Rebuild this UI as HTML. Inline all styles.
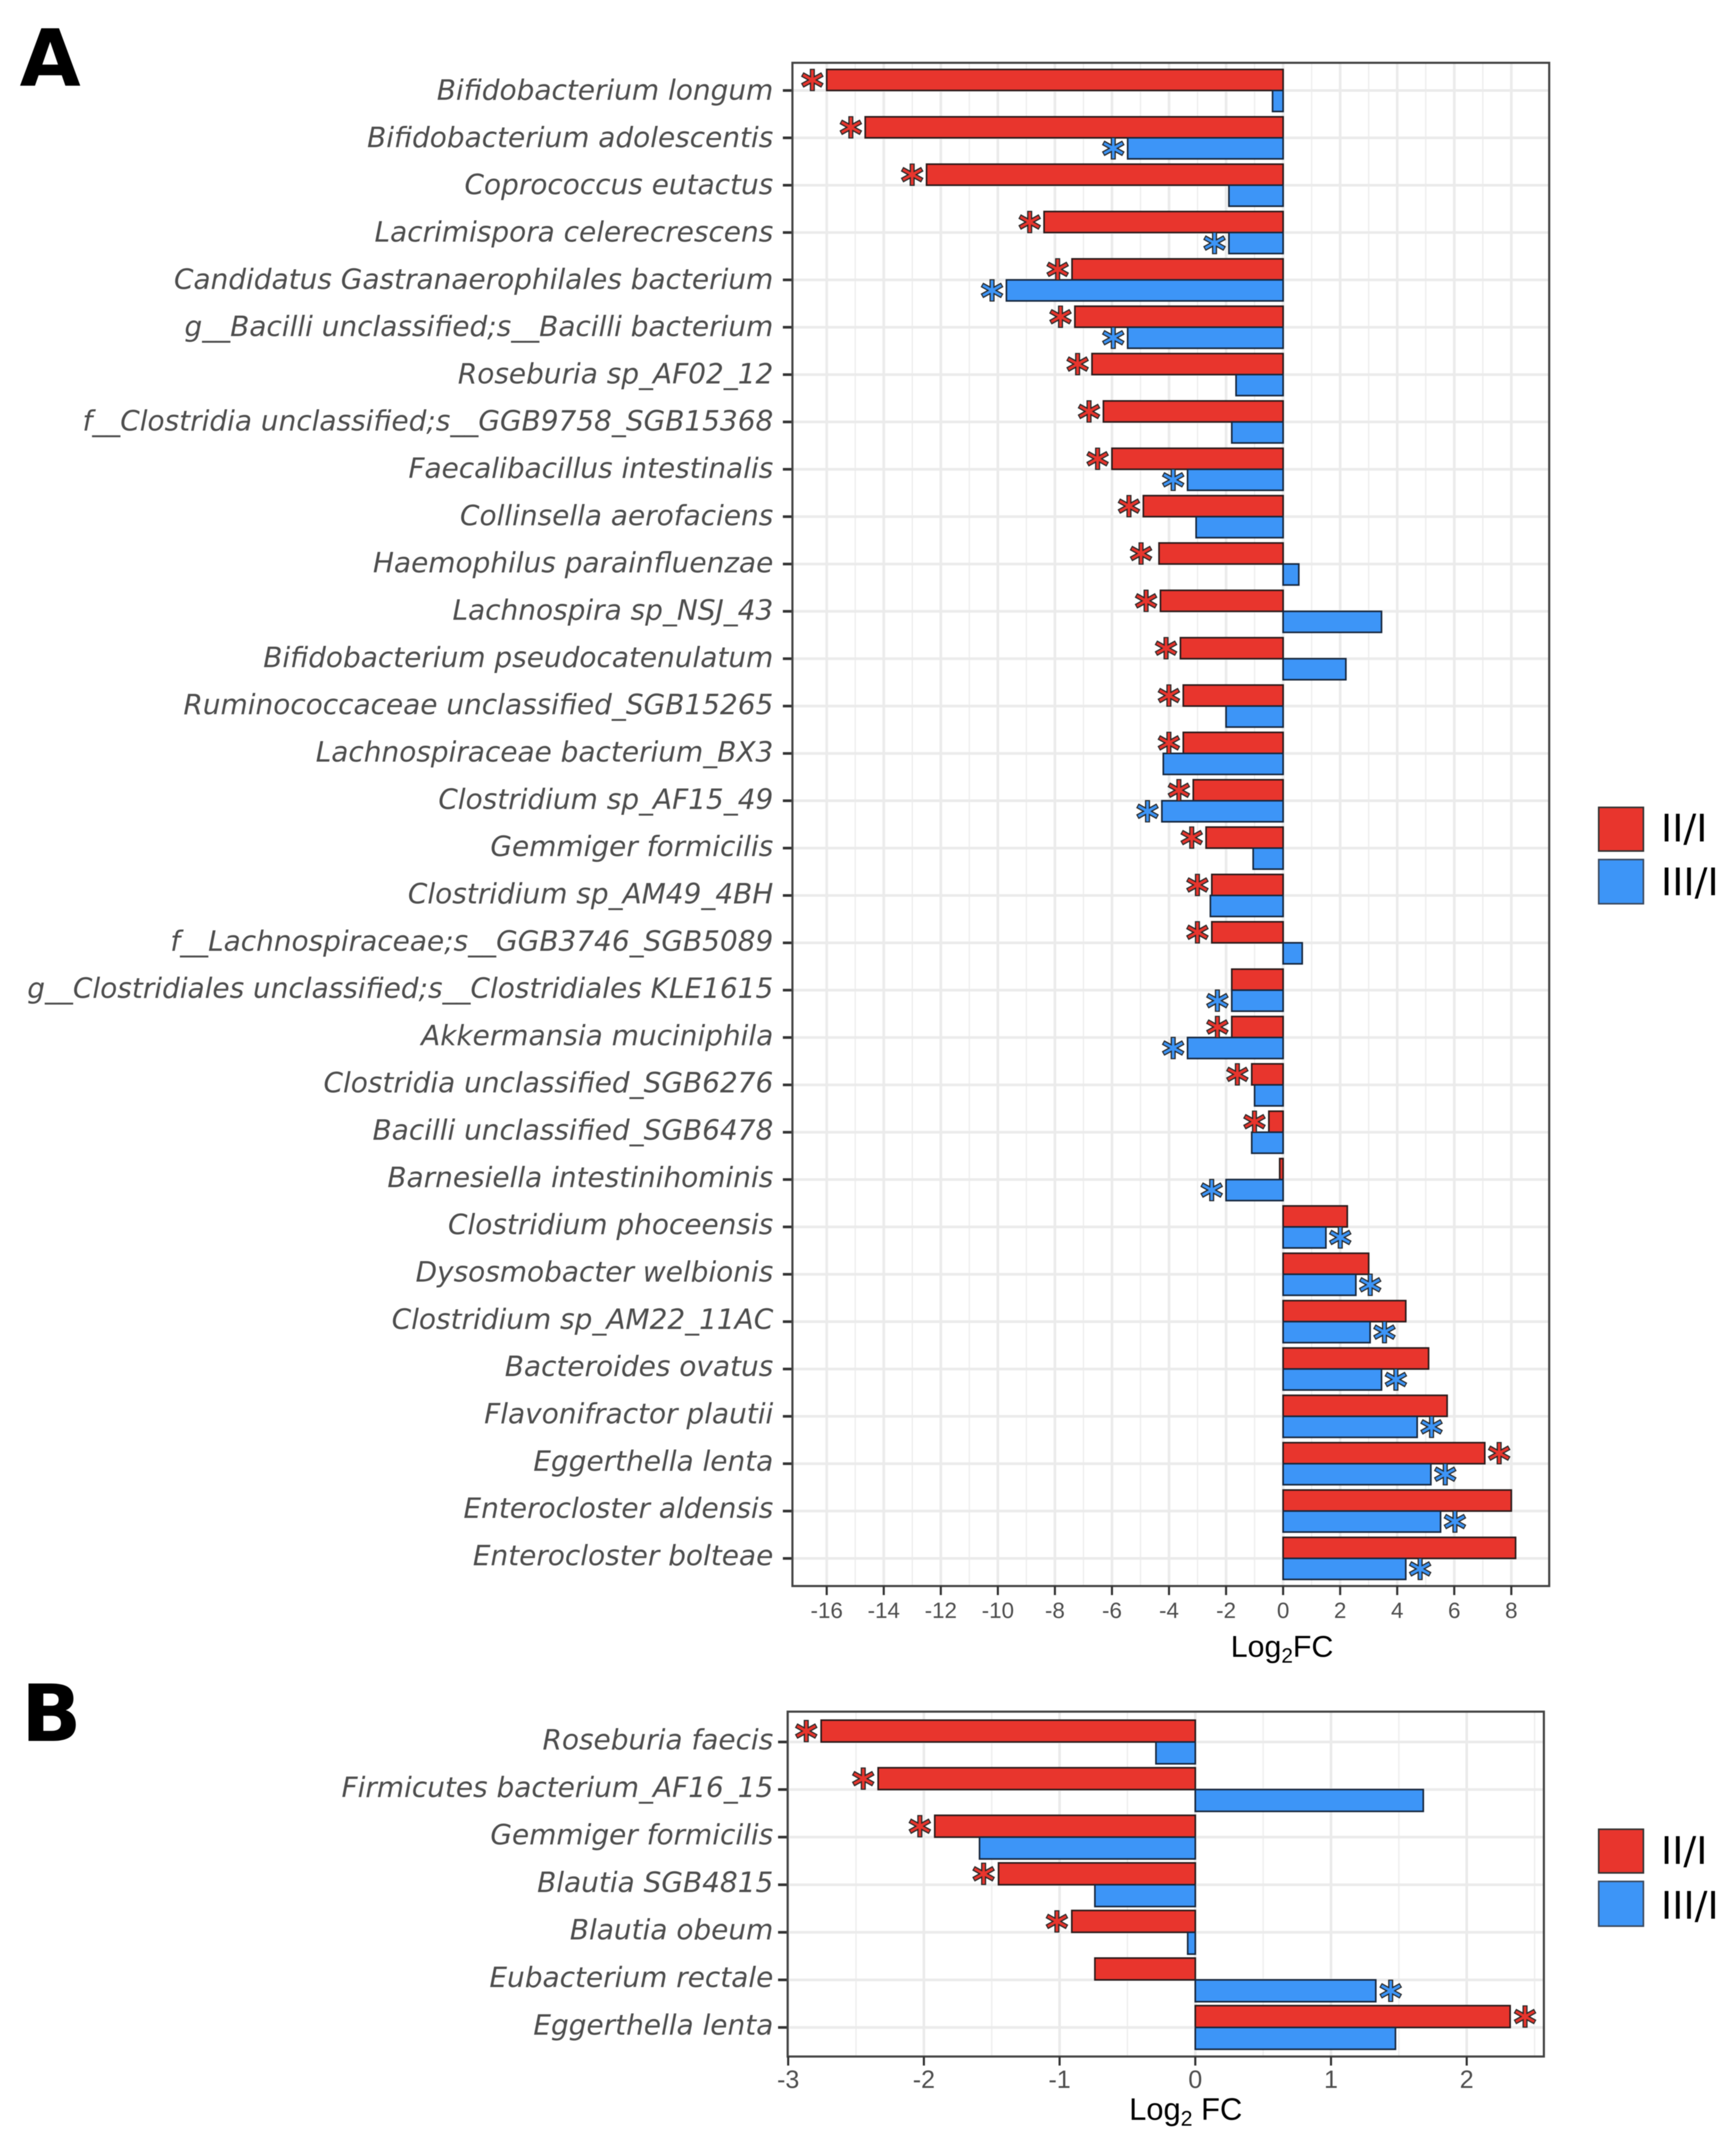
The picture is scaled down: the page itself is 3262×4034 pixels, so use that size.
<!DOCTYPE html>
<html lang="en">
<head>
<meta charset="utf-8">
<title>Log2FC differential abundance bar charts</title>
<style>
html,body{margin:0;padding:0;background:#fff;}
body{width:3262px;height:4034px;overflow:hidden;}
svg{display:block;}
.ylab{font-family:"DejaVu Sans","Liberation Sans",sans-serif;font-style:italic;font-size:52.5px;fill:#4d4d4d;text-anchor:end;}
.tick{font-family:"Liberation Sans",sans-serif;fill:#4d4d4d;text-anchor:middle;}
.axt{font-family:"Liberation Sans",sans-serif;fill:#000;text-anchor:middle;}
.leg{font-family:"DejaVu Sans",sans-serif;font-size:71.5px;fill:#000;}
.pan{font-family:"DejaVu Sans",sans-serif;font-weight:700;font-size:148px;fill:#000;}
</style>
</head>
<body>
<svg id="chart" xmlns="http://www.w3.org/2000/svg" width="3262" height="4034" viewBox="0 0 3262 4034">
  <rect width="3262" height="4034" fill="#fff"/>
  <g id="root" style="filter:blur(0.7px)">
    <text class="pan" x="37" y="161">A</text>
    <text class="pan" x="40" y="3271">B</text>
    <g id="gridlayer"></g>
    <g id="barlayer"></g>
    <g id="starlayer"></g>
    <g id="framelayer"></g>
    <text class="axt" x="2409" y="3113" font-size="57">Log<tspan font-size="39" dy="11">2</tspan><tspan dy="-11">FC</tspan></text>
    <text class="axt" x="2228" y="3983" font-size="58">Log<tspan font-size="40" dy="11">2</tspan><tspan dy="-11"> FC</tspan></text>
    <g>
      <rect x="3004" y="1517" width="84" height="82" fill="#e8352d" stroke="#333" stroke-width="3"/>
      <rect x="3004" y="1615" width="84" height="83" fill="#3d95f7" stroke="#3a4a60" stroke-width="3"/>
      <text class="leg" x="3121" y="1581">II/I</text>
      <text class="leg" x="3121" y="1682">III/I</text>
    </g>
    <g>
      <rect x="3004" y="3437" width="84" height="82" fill="#e8352d" stroke="#333" stroke-width="3"/>
      <rect x="3004" y="3535" width="84" height="84" fill="#3d95f7" stroke="#3a4a60" stroke-width="3"/>
      <text class="leg" x="3121" y="3502">II/I</text>
      <text class="leg" x="3121" y="3605">III/I</text>
    </g>
  </g>
</svg>
<script>
const speciesA = ["Bifidobacterium longum","Bifidobacterium adolescentis","Coprococcus eutactus","Lacrimispora celerecrescens","Candidatus Gastranaerophilales bacterium","g__Bacilli unclassified;s__Bacilli bacterium","Roseburia sp_AF02_12","f__Clostridia unclassified;s__GGB9758_SGB15368","Faecalibacillus intestinalis","Collinsella aerofaciens","Haemophilus parainfluenzae","Lachnospira sp_NSJ_43","Bifidobacterium pseudocatenulatum","Ruminococcaceae unclassified_SGB15265","Lachnospiraceae bacterium_BX3","Clostridium sp_AF15_49","Gemmiger formicilis","Clostridium sp_AM49_4BH","f__Lachnospiraceae;s__GGB3746_SGB5089","g__Clostridiales unclassified;s__Clostridiales KLE1615","Akkermansia muciniphila","Clostridia unclassified_SGB6276","Bacilli unclassified_SGB6478","Barnesiella intestinihominis","Clostridium phoceensis","Dysosmobacter welbionis","Clostridium sp_AM22_11AC","Bacteroides ovatus","Flavonifractor plautii","Eggerthella lenta","Enterocloster aldensis","Enterocloster bolteae"];
const redA = [-16.0,-14.65,-12.5,-8.38,-7.4,-7.3,-6.7,-6.3,-6.0,-4.9,-4.35,-4.3,-3.6,-3.5,-3.5,-3.15,-2.7,-2.5,-2.5,-1.8,-1.8,-1.1,-0.5,-0.12,2.25,3.0,4.3,5.1,5.75,7.07,8.0,8.15];
const blueA = [-0.37,-5.45,-1.9,-1.9,-9.7,-5.45,-1.65,-1.8,-3.35,-3.05,0.55,3.45,2.2,-2.0,-4.2,-4.25,-1.05,-2.55,0.67,-1.8,-3.35,-1.0,-1.1,-2.0,1.5,2.55,3.05,3.45,4.7,5.18,5.52,4.3];
/* significance marks: 0 = none, otherwise the mark's distance from the bar end as a factor */
const redStarA = [1,1,1,1,1,1,1,1,1,1,1.25,1,1,1,1,1,1,1,1,0,1,1,1,0,0,0,0,0,0,1,0,0];
const blueStarA = [0,1,0,1,1,1,0,0,1,0,0,0,0,0,0,1,0,0,0,1,1,0,0,1,1,1,1,1,1,1,1,1];
const ticksA = [-16,-14,-12,-10,-8,-6,-4,-2,0,2,4,6,8];
const minorTicksA = [-15,-13,-11,-9,-7,-5,-3,-1,1,3,5,7];

const speciesB = ["Roseburia faecis","Firmicutes bacterium_AF16_15","Gemmiger formicilis","Blautia SGB4815","Blautia obeum","Eubacterium rectale","Eggerthella lenta"];
const redB = [-2.757,-2.337,-1.92,-1.45,-0.91,-0.74,2.32];
const blueB = [-0.29,1.68,-1.59,-0.74,-0.056,1.33,1.475];
const redStarB = [1,1,1,1,1,0,1];
const blueStarB = [0,0,0,0,0,1,0];
const ticksB = [-3,-2,-1,0,1,2];
const minorTicksB = [-2.5,-1.5,-0.5,0.5,1.5,2.5];

const RED = "#e8352d", BLUE = "#3d95f7";
const NS = "http://www.w3.org/2000/svg";
const gridLayer = document.getElementById("gridlayer");
const barLayer = document.getElementById("barlayer");
const starLayer = document.getElementById("starlayer");
const frameLayer = document.getElementById("framelayer");

function mk(tag, attrs, parent) {
  const el = document.createElementNS(NS, tag);
  for (const k in attrs) el.setAttribute(k, attrs[k]);
  parent.appendChild(el);
  return el;
}

function drawStar(cx, cy, color, parent) {
  const g = mk("g", {}, parent);
  
  
  const angles = [90, 30, -30];
  angles.forEach(function (a) {
    const r = a * Math.PI / 180, c = Math.cos(r), s = Math.sin(r);
    mk("line", {x1: cx - 22 * c, y1: cy - 21 * s, x2: cx + 22 * c, y2: cy + 21 * s, stroke: "#262626", "stroke-width": 9.5}, g);
  });
  angles.forEach(function (a) {
    const r = a * Math.PI / 180, c = Math.cos(r), s = Math.sin(r);
    mk("line", {x1: cx - 20 * c, y1: cy - 19 * s, x2: cx + 20 * c, y2: cy + 19 * s, stroke: color, "stroke-width": 5}, g);
  });
}

function drawPanel(p) {
  const x = function (v) { return p.zero + v * p.unit; };
  const y = function (i) { return p.firstRow + i * p.rowStep; };
  const base = function (i) { return p.firstBase + i * p.baseStep; };
  p.minor.forEach(function (v) {
    const l = mk("line", {x1: x(v), x2: x(v), y1: p.top, y2: p.bottom, stroke: "#eeeeee", "stroke-width": 2.5}, gridLayer);
    
    
  });
  p.ticks.forEach(function (v) {
    const l = mk("line", {x1: x(v), x2: x(v), y1: p.top, y2: p.bottom, stroke: "#ebebeb", "stroke-width": 5}, gridLayer);
    
    
  });
  p.species.forEach(function (name, i) {
    const l = mk("line", {x1: p.left, x2: p.right, y1: y(i), y2: y(i), stroke: "#ebebeb", "stroke-width": 5}, gridLayer);
    
    

    const t = mk("text", {class: "ylab", x: p.labelX, y: base(i)}, frameLayer);
    t.textContent = name;
    
    

    const tk = mk("line", {x1: p.left - 18, x2: p.left, y1: y(i), y2: y(i), stroke: "#333", "stroke-width": 5}, frameLayer);
    
    

    const rv = p.red[i], bv = p.blue[i];
    const rb = mk("rect", {x: Math.min(x(0), x(rv)), y: y(i) - p.barH, width: Math.abs(x(rv) - x(0)), height: p.barH, fill: RED, stroke: "#2a1a1a", "stroke-width": 3}, barLayer);
    
    
    const bb = mk("rect", {x: Math.min(x(0), x(bv)), y: y(i), width: Math.abs(x(bv) - x(0)), height: p.barH, fill: BLUE, stroke: "#16263c", "stroke-width": 3}, barLayer);
    
    

    if (p.redStar[i]) drawStar(x(rv) + (rv < 0 ? -1 : 1) * p.starGap * p.redStar[i], y(i) - p.barH / 2, RED, starLayer);
    if (p.blueStar[i]) drawStar(x(bv) + (bv < 0 ? -1 : 1) * p.starGap * p.blueStar[i], y(i) + p.barH / 2, BLUE, starLayer);
  });
  const frame = mk("rect", {x: p.left, y: p.top, width: p.right - p.left, height: p.bottom - p.top, fill: "none", stroke: "#444", "stroke-width": 4}, frameLayer);
  
  
  p.ticks.forEach(function (v) {
    const tk = mk("line", {x1: x(v), x2: x(v), y1: p.bottom, y2: p.bottom + 17, stroke: "#333", "stroke-width": 4}, frameLayer);
    
    
    const t = mk("text", {class: "tick", x: x(v), y: p.tickBase, "font-size": p.tickSize}, frameLayer);
    t.textContent = String(v);
    
    
  });
}

drawPanel({species: speciesA, red: redA, blue: blueA, redStar: redStarA, blueStar: blueStarA, ticks: ticksA, minor: minorTicksA,
  zero: 2411, unit: 53.6, left: 1489, right: 2911, top: 118, bottom: 2980, firstRow: 170, rowStep: 88.97, barH: 39.5,
  starGap: 27, labelX: 1453, firstBase: 187.5, baseStep: 88.82, tickBase: 3040, tickSize: 42});
drawPanel({species: speciesB, red: redB, blue: blueB, redStar: redStarB, blueStar: blueStarB, ticks: ticksB, minor: minorTicksB,
  zero: 2246, unit: 255, left: 1480, right: 2901, top: 3216, bottom: 3864, firstRow: 3273, rowStep: 89.4, barH: 41,
  starGap: 28, labelX: 1453, firstBase: 3287, baseStep: 89.3, tickBase: 3923, tickSize: 47});
</script>
</body>
</html>
